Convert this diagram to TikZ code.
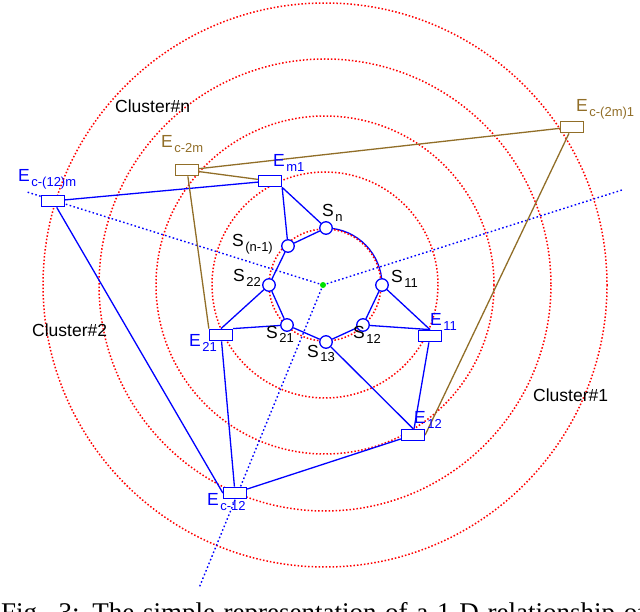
\documentclass[tikz,border=0pt]{standalone}
\usepackage{fontspec}
\setmainfont{Liberation Sans}
\newfontfamily\capfont{Liberation Serif}
\usetikzlibrary{backgrounds}
\definecolor{brn}{RGB}{145,110,40}
\definecolor{grn}{RGB}{0,225,0}
\newcommand{\mylab}[2]{#1\hspace{1.5pt}\raisebox{-5pt}{\fontsize{13}{14}\selectfont #2}}
\begin{document}
\begin{tikzpicture}[x=1pt,y=-1pt,
  ring/.style={red, line width=1.5pt, dash pattern=on 1.5pt off 2pt},
  ray/.style={blue, line width=1.4pt, dash pattern=on 1.6pt off 2.4pt},
  link/.style={blue, line width=1.3pt},
  blink/.style={brn, line width=1.3pt},
  snode/.style={circle, draw=blue, fill=white, line width=1.3pt, minimum size=12.5pt, inner sep=0pt},
  ebox/.style={rectangle, draw=blue, fill=white, line width=1.3pt, minimum width=23pt, minimum height=11.5pt, inner sep=0pt},
  bbox/.style={ebox, draw=brn},
  txt/.style={anchor=base west, inner sep=0pt, font=\fontsize{17.5}{18}\selectfont},
]
\clip (0,0) rectangle (640,612);
% S nodes
\node[snode] (Sn)  at (326,228) {};
\node[snode] (Sn1) at (288,246) {};
\node[snode] (S22) at (269,285) {};
\node[snode] (S21) at (287,325) {};
\node[snode] (S13) at (326,342) {};
\node[snode] (S12) at (363,325) {};
\node[snode] (S11) at (382,285) {};
% E nodes
\node[ebox] (Em1)   at (270,181) {};
\node[bbox] (Ec2m)  at (187,170) {};
\node[ebox] (Ec12m) at (53,201) {};
\node[ebox] (E21)   at (221,335) {};
\node[ebox] (E11)   at (430,336) {};
\node[ebox] (E12)   at (413,435) {};
\node[ebox] (Ec12)  at (235,493) {};
\node[bbox] (Ec2m1) at (572,127) {};
% centre and ray ends
\coordinate (O) at (323,285);
\coordinate (R1) at (27,192);
\coordinate (R2) at (622,190);
\coordinate (R3) at (199,588);
\node[circle, fill=grn, minimum size=6pt, inner sep=0pt] (ctr) at (O) {};

\begin{scope}[on background layer]
  \draw[link] (Sn.center) arc[start angle=-89, end angle=0, radius=57];
  \foreach \r in {56,113,169,226,282} \draw[ring] (325,285) circle[radius=\r];
  \draw[ray] (O) -- (R1);
  \draw[ray] (O) -- (R2);
  \draw[ray] (O) -- (R3);
  % blue links
  \draw[link] (Sn) -- (Sn1);
  \draw[link] (Sn1) -- (S22);
  \draw[link] (S22) -- (S21);
  \draw[link] (S21) -- (S13);
  \draw[link] (S13) -- (S12);
  \draw[link] (S12) -- (S11);
  \draw[link] (Em1.south east) -- (Sn);
  \draw[link] (Em1.south east) -- (Sn1);
  \draw[link] (Em1) -- (Ec12m);
  \draw[link] (E21.north) -- (S22);
  \draw[link] (E21.north east) -- (S21);
  \draw[link] (E21) -- (Ec12);
  \draw[link] (E11.north) -- (S11);
  \draw[link] (E11.north) -- (S12);
  \draw[link] (E11) -- (E12);
  \draw[link] (S13) -- (E12.north);
  \draw[link] (E12) -- (Ec12);
  \draw[link] (Ec12m) -- (Ec12.west);
  % brown links
  \draw[blink] (Ec2m) -- (Ec2m1);
  \draw[blink] (Ec2m) -- (Em1);
  \draw[blink] (Ec2m) -- (E21.north west);
  \draw[blink] (Ec2m1) -- (E12.east);
\end{scope}

% labels
\node[txt] (lSn)  at (322,217) {\mylab{S}{n}};
\node[txt] (lSn1) at (232,247) {\mylab{S}{(n-1)}};
\node[txt] (lS22) at (233,282) {\mylab{S}{22}};
\node[txt] (lS21) at (266,338) {\mylab{S}{21}};
\node[txt] (lS13) at (307,357) {\mylab{S}{13}};
\node[txt] (lS12) at (353,339) {\mylab{S}{12}};
\node[txt] (lS11) at (391,283) {\mylab{S}{11}};
\node[txt, blue] (lEm1)   at (273,167) {\mylab{E}{m1}};
\node[txt, brn]  (lEc2m)  at (161,148) {\mylab{E}{c-2m}};
\node[txt, blue] (lEc12m) at (18,182)  {\mylab{E}{c-(12)m}};
\node[txt, blue] (lE21)   at (189,347) {\mylab{E}{21}};
\node[txt, blue] (lE11)   at (430,326) {\mylab{E}{11}};
\node[txt, blue] (lE12)   at (414,423) {\mylab{E}{12}};
\node[txt, blue] (lEc12)  at (207,505) {\mylab{E}{c-12}};
\node[txt, brn]  (lEc2m1) at (576,112) {\mylab{E}{c-(2m)1}};
\node[txt] (cn) at (115,113) {Cluster\#n};
\node[txt] (c2) at (32,337)  {Cluster\#2};
\node[txt] (c1) at (533,401) {Cluster\#1};
% caption (cut off by the frame, as in the reference)
\node[anchor=base west, inner sep=0pt, font={\capfont\fontsize{27}{28}\selectfont}] (cap) at (1,621)
  {\makebox[645pt][s]{Fig. 3: The simple representation of a 1-D relationship of}};
\end{tikzpicture}
\end{document}
